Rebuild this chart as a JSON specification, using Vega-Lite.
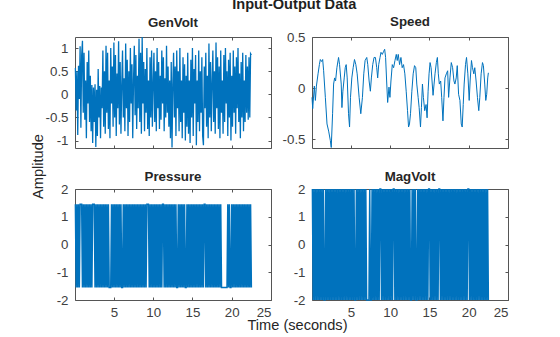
{
"$schema":"https://vega.github.io/schema/vega-lite/v6.json",
"padding":{"left":29,"top":-4,"right":5,"bottom":5},
"title":{"text":"Input-Output Data","fontSize":14.6,"fontWeight":"bold","color":"#1f1f1f","anchor":"middle","dx":25,"offset":3},
"config":{
"font":"Liberation Sans",
"view":{"stroke":"#555555","strokeWidth":1},
"axis":{"domain":false,"grid":false,"ticks":true,"tickSize":-3,"tickColor":"#555555","tickWidth":1,"labelFont":"Liberation Sans","labelFontSize":13.3,"labelColor":"#404040","labelPadding":10,"titleFont":"Liberation Sans","titleFontSize":14.6,"titleFontWeight":"normal","titleColor":"#262626","labelExpr":"datum.value < 0 ? '-' + format(-datum.value, '~g') : format(datum.value, '~g')"},
"axisX":{"labelPadding":8},
"title":{"font":"Liberation Sans","fontSize":13.3,"fontWeight":"bold","color":"#262626","offset":5}
},
"datasets":{
"gv":[{"t":0.1,"v":0.57},{"t":0.2,"v":-0.35},{"t":0.3,"v":0.5},{"t":0.4,"v":-0.88},{"t":0.5,"v":0.62},{"t":0.6,"v":-0.1},{"t":0.7,"v":1.04},{"t":0.8,"v":-0.72},{"t":0.9,"v":0.85},{"t":1,"v":1.16},
{"t":1.1,"v":-0.4},{"t":1.2,"v":0.9},{"t":1.3,"v":-0.55},{"t":1.4,"v":0.3},{"t":1.5,"v":-0.95},{"t":1.6,"v":0.7},{"t":1.7,"v":-0.2},{"t":1.8,"v":0.95},{"t":1.9,"v":-0.6},{"t":2,"v":0.4},
{"t":2.1,"v":-0.8},{"t":2.2,"v":0.2},{"t":2.3,"v":-1.05},{"t":2.4,"v":0.15},{"t":2.5,"v":-0.6},{"t":2.6,"v":0.22},{"t":2.7,"v":-1.14},{"t":2.8,"v":0.1},{"t":2.9,"v":-0.9},{"t":3,"v":0.55},
{"t":3.1,"v":-0.5},{"t":3.2,"v":0.18},{"t":3.3,"v":-0.95},{"t":3.4,"v":0.15},{"t":3.5,"v":-0.3},{"t":3.6,"v":0.95},{"t":3.7,"v":-0.7},{"t":3.8,"v":0.5},{"t":3.9,"v":-0.85},{"t":4,"v":1.05},
{"t":4.1,"v":-0.4},{"t":4.2,"v":0.9},{"t":4.3,"v":-0.75},{"t":4.4,"v":0.3},{"t":4.5,"v":-0.95},{"t":4.6,"v":1},{"t":4.7,"v":-0.2},{"t":4.8,"v":0.6},{"t":4.9,"v":-0.7},{"t":5,"v":1.12},
{"t":5.1,"v":-0.5},{"t":5.2,"v":0.85},{"t":5.3,"v":-0.9},{"t":5.4,"v":0.45},{"t":5.5,"v":-0.3},{"t":5.6,"v":1.15},{"t":5.7,"v":-0.65},{"t":5.8,"v":0.7},{"t":5.9,"v":-0.85},{"t":6,"v":0.2},
{"t":6.1,"v":0.95},{"t":6.2,"v":-0.5},{"t":6.3,"v":0.35},{"t":6.4,"v":-0.8},{"t":6.5,"v":1.1},{"t":6.6,"v":-0.3},{"t":6.7,"v":0.75},{"t":6.8,"v":-0.9},{"t":6.9,"v":0.5},{"t":7,"v":-0.6},
{"t":7.1,"v":1},{"t":7.2,"v":-0.2},{"t":7.3,"v":0.65},{"t":7.4,"v":-0.95},{"t":7.5,"v":0.3},{"t":7.6,"v":1.05},{"t":7.7,"v":-0.45},{"t":7.8,"v":0.85},{"t":7.9,"v":-0.75},{"t":8,"v":0.4},
{"t":8.1,"v":-0.3},{"t":8.2,"v":1.2},{"t":8.3,"v":-0.6},{"t":8.4,"v":0.9},{"t":8.5,"v":-0.85},{"t":8.6,"v":1.24},{"t":8.7,"v":-0.2},{"t":8.8,"v":0.7},{"t":8.9,"v":-0.8},{"t":9,"v":0.55},
{"t":9.1,"v":-0.4},{"t":9.2,"v":1},{"t":9.3,"v":-0.75},{"t":9.4,"v":0.3},{"t":9.5,"v":-0.9},{"t":9.6,"v":0.8},{"t":9.7,"v":-0.5},{"t":9.8,"v":0.95},{"t":9.9,"v":-0.7},{"t":10,"v":0.2},
{"t":10.1,"v":0.9},{"t":10.2,"v":-0.6},{"t":10.3,"v":0.5},{"t":10.4,"v":-0.8},{"t":10.5,"v":1},{"t":10.6,"v":-0.3},{"t":10.7,"v":0.7},{"t":10.8,"v":-0.75},{"t":10.9,"v":0.4},{"t":11,"v":-0.55},
{"t":11.1,"v":0.95},{"t":11.2,"v":-0.2},{"t":11.3,"v":0.8},{"t":11.4,"v":-0.8},{"t":11.5,"v":0.35},{"t":11.6,"v":-0.5},{"t":11.7,"v":1.05},{"t":11.8,"v":-0.4},{"t":11.9,"v":0.6},{"t":12,"v":-0.7},
{"t":12.1,"v":0.3},{"t":12.2,"v":-0.95},{"t":12.3,"v":0.7},{"t":12.4,"v":-1.15},{"t":12.5,"v":0.2},{"t":12.6,"v":0.9},{"t":12.7,"v":-0.5},{"t":12.8,"v":0.6},{"t":12.9,"v":-0.9},{"t":13,"v":0.95},
{"t":13.1,"v":-0.3},{"t":13.2,"v":0.5},{"t":13.3,"v":-0.8},{"t":13.4,"v":1},{"t":13.5,"v":-0.6},{"t":13.6,"v":0.3},{"t":13.7,"v":-0.95},{"t":13.8,"v":0.8},{"t":13.9,"v":-0.4},{"t":14,"v":0.65},
{"t":14.1,"v":-1},{"t":14.2,"v":0.4},{"t":14.3,"v":-0.7},{"t":14.4,"v":0.9},{"t":14.5,"v":-0.85},{"t":14.6,"v":0.3},{"t":14.7,"v":-1.05},{"t":14.8,"v":0.75},{"t":14.9,"v":-0.5},{"t":15,"v":1},
{"t":15.1,"v":-0.9},{"t":15.2,"v":0.55},{"t":15.3,"v":-0.2},{"t":15.4,"v":0.85},{"t":15.5,"v":-1.1},{"t":15.6,"v":0.3},{"t":15.7,"v":-0.6},{"t":15.8,"v":0.95},{"t":15.9,"v":-0.8},{"t":16,"v":0.5},
{"t":16.1,"v":-0.4},{"t":16.2,"v":0.8},{"t":16.3,"v":-0.9},{"t":16.4,"v":-1.1},{"t":16.5,"v":0.6},{"t":16.6,"v":-0.3},{"t":16.7,"v":0.9},{"t":16.8,"v":-0.7},{"t":16.9,"v":0.4},{"t":17,"v":-0.95},
{"t":17.1,"v":1.1},{"t":17.2,"v":-0.5},{"t":17.3,"v":0.7},{"t":17.4,"v":-0.8},{"t":17.5,"v":0.25},{"t":17.6,"v":0.95},{"t":17.7,"v":-0.6},{"t":17.8,"v":0.5},{"t":17.9,"v":-0.85},{"t":18,"v":1.12},
{"t":18.1,"v":-0.3},{"t":18.2,"v":0.8},{"t":18.3,"v":-0.75},{"t":18.4,"v":0.6},{"t":18.5,"v":-0.95},{"t":18.6,"v":0.95},{"t":18.7,"v":-0.4},{"t":18.8,"v":0.3},{"t":18.9,"v":-0.85},{"t":19,"v":0.85},
{"t":19.1,"v":-0.6},{"t":19.2,"v":1},{"t":19.3,"v":-0.2},{"t":19.4,"v":0.5},{"t":19.5,"v":-0.9},{"t":19.6,"v":0.75},{"t":19.7,"v":-0.5},{"t":19.8,"v":0.9},{"t":19.9,"v":-1},{"t":20,"v":0.4},
{"t":20.1,"v":-0.7},{"t":20.2,"v":0.95},{"t":20.3,"v":-0.4},{"t":20.4,"v":0.6},{"t":20.5,"v":-0.85},{"t":20.6,"v":0.8},{"t":20.7,"v":-0.3},{"t":20.8,"v":1},{"t":20.9,"v":-0.6},{"t":21,"v":0.45},
{"t":21.1,"v":-0.95},{"t":21.2,"v":0.7},{"t":21.3,"v":-0.5},{"t":21.4,"v":0.9},{"t":21.5,"v":-0.8},{"t":21.6,"v":0.3},{"t":21.7,"v":-0.6},{"t":21.8,"v":0.85},{"t":21.9,"v":-0.4},{"t":22,"v":0.6},
{"t":22.1,"v":-0.55},{"t":22.2,"v":0.8},{"t":22.3,"v":-0.5},{"t":22.4,"v":0.88},{"t":22.5,"v":0.85}],
"sp":[{"t":0.05,"v":-0.09},{"t":0.14,"v":-0.2},{"t":0.35,"v":0.02},{"t":0.48,"v":-0.12},{"t":0.61,"v":0.02},{"t":0.82,"v":0.14},{"t":0.99,"v":0.23},{"t":1.11,"v":0.28},{"t":1.28,"v":0.26},{"t":1.41,"v":0.28},
{"t":1.53,"v":0.17},{"t":1.75,"v":-0.09},{"t":1.96,"v":-0.35},{"t":2.17,"v":-0.42},{"t":2.38,"v":-0.51},{"t":2.5,"v":-0.58},{"t":2.67,"v":-0.25},{"t":2.8,"v":0.04},{"t":2.93,"v":0.1},{"t":3.05,"v":0.07},
{"t":3.22,"v":0.2},{"t":3.43,"v":0.3},{"t":3.56,"v":0.23},{"t":3.77,"v":0.04},{"t":3.86,"v":-0.19},{"t":3.98,"v":-0.03},{"t":4.15,"v":0.1},{"t":4.28,"v":0.2},{"t":4.4,"v":0.23},{"t":4.53,"v":0.1},
{"t":4.7,"v":-0.25},{"t":4.83,"v":-0.38},{"t":4.95,"v":-0.09},{"t":5.12,"v":0.1},{"t":5.29,"v":0.2},{"t":5.46,"v":0.28},{"t":5.63,"v":0.23},{"t":5.8,"v":0.14},{"t":6.05,"v":-0.09},{"t":6.26,"v":-0.25},
{"t":6.47,"v":-0.09},{"t":6.64,"v":0.14},{"t":6.81,"v":0.27},{"t":7.02,"v":0.3},{"t":7.15,"v":0.23},{"t":7.32,"v":0.07},{"t":7.48,"v":-0.03},{"t":7.61,"v":0.1},{"t":7.78,"v":0.23},{"t":7.95,"v":0.3},
{"t":8.12,"v":0.3},{"t":8.29,"v":0.2},{"t":8.41,"v":0.1},{"t":8.54,"v":0.23},{"t":8.71,"v":0.3},{"t":8.83,"v":0.35},{"t":9,"v":0.33},{"t":9.17,"v":0.36},{"t":9.3,"v":0.38},{"t":9.42,"v":0.3},
{"t":9.55,"v":0.07},{"t":9.68,"v":-0.14},{"t":9.85,"v":0.01},{"t":9.97,"v":-0.09},{"t":10.1,"v":0.07},{"t":10.27,"v":0.23},{"t":10.44,"v":0.2},{"t":10.61,"v":0.27},{"t":10.78,"v":0.33},{"t":10.9,"v":0.27},
{"t":11.03,"v":0.33},{"t":11.2,"v":0.23},{"t":11.37,"v":0.3},{"t":11.53,"v":0.2},{"t":11.7,"v":0.23},{"t":11.87,"v":0.14},{"t":12.04,"v":-0.03},{"t":12.21,"v":-0.22},{"t":12.34,"v":-0.38},{"t":12.46,"v":-0.35},
{"t":12.59,"v":-0.25},{"t":12.76,"v":-0.03},{"t":12.93,"v":0.14},{"t":13.1,"v":0.22},{"t":13.26,"v":0.2},{"t":13.39,"v":0.04},{"t":13.56,"v":-0.09},{"t":13.69,"v":-0.19},{"t":13.86,"v":-0.38},{"t":13.98,"v":-0.19},
{"t":14.11,"v":0.04},{"t":14.23,"v":-0.09},{"t":14.4,"v":-0.22},{"t":14.57,"v":-0.16},{"t":14.7,"v":-0.29},{"t":14.83,"v":-0.03},{"t":14.95,"v":0.14},{"t":15.08,"v":0.25},{"t":15.21,"v":0.2},{"t":15.33,"v":0.07},
{"t":15.46,"v":-0.07},{"t":15.59,"v":0.04},{"t":15.71,"v":0.14},{"t":15.88,"v":0.25},{"t":16.01,"v":0.3},{"t":16.13,"v":0.14},{"t":16.26,"v":0.04},{"t":16.43,"v":0.07},{"t":16.56,"v":-0.09},{"t":16.72,"v":-0.32},
{"t":16.85,"v":-0.09},{"t":16.98,"v":0.1},{"t":17.15,"v":0.14},{"t":17.32,"v":0.17},{"t":17.44,"v":-0.09},{"t":17.61,"v":0.1},{"t":17.78,"v":0.25},{"t":17.95,"v":0.2},{"t":18.12,"v":0.07},{"t":18.24,"v":0.04},
{"t":18.41,"v":0.1},{"t":18.54,"v":0.22},{"t":18.71,"v":-0.06},{"t":18.88,"v":-0.12},{"t":19.05,"v":-0.35},{"t":19.17,"v":-0.38},{"t":19.3,"v":-0.16},{"t":19.42,"v":0.04},{"t":19.59,"v":0.23},{"t":19.72,"v":0.3},
{"t":19.89,"v":0.14},{"t":20.06,"v":-0.12},{"t":20.18,"v":0.07},{"t":20.35,"v":0.27},{"t":20.48,"v":0.2},{"t":20.65,"v":0.14},{"t":20.77,"v":0.2},{"t":20.94,"v":0.07},{"t":21.11,"v":-0.09},{"t":21.28,"v":-0.22},
{"t":21.41,"v":-0.09},{"t":21.58,"v":0.14},{"t":21.75,"v":0.25},{"t":21.87,"v":0.22},{"t":22.04,"v":0.04},{"t":22.17,"v":-0.12},{"t":22.29,"v":-0.06},{"t":22.42,"v":0.1},{"t":22.5,"v":0.15}],
"pr":[{"t":0.1,"v":1.45},{"t":0.2,"v":-1.55},{"t":0.3,"v":1.45},{"t":0.4,"v":-1.55},{"t":0.5,"v":1.45},{"t":0.6,"v":-1.55},{"t":0.7,"v":1.45},{"t":0.8,"v":1.45},{"t":0.9,"v":1.45},{"t":1,"v":-1.55},
{"t":1.1,"v":1.45},{"t":1.2,"v":-1.55},{"t":1.3,"v":1.45},{"t":1.4,"v":-1.55},{"t":1.5,"v":1.45},{"t":1.6,"v":-1.55},{"t":1.7,"v":1.45},{"t":1.8,"v":-1.55},{"t":1.9,"v":1.45},{"t":2,"v":-1.55},
{"t":2.1,"v":1.45},{"t":2.2,"v":-1.55},{"t":2.3,"v":1.45},{"t":2.4,"v":1.45},{"t":2.5,"v":1.45},{"t":2.6,"v":-1.55},{"t":2.7,"v":1.45},{"t":2.8,"v":-1.55},{"t":2.9,"v":1.45},{"t":3,"v":-1.55},
{"t":3.1,"v":1.45},{"t":3.2,"v":-1.55},{"t":3.3,"v":1.45},{"t":3.4,"v":-1.55},{"t":3.5,"v":1.45},{"t":3.6,"v":-1.55},{"t":3.7,"v":1.45},{"t":3.8,"v":-1.55},{"t":3.9,"v":1.45},{"t":4,"v":-1.55},
{"t":4.1,"v":1.45},{"t":4.2,"v":-1.55},{"t":4.3,"v":1.45},{"t":4.4,"v":-1.55},{"t":4.5,"v":-1.55},{"t":4.6,"v":-1.55},{"t":4.7,"v":1.45},{"t":4.8,"v":-1.55},{"t":4.9,"v":1.45},{"t":5,"v":-1.55},
{"t":5.1,"v":1.45},{"t":5.2,"v":-1.55},{"t":5.3,"v":1.45},{"t":5.4,"v":-1.55},{"t":5.5,"v":1.45},{"t":5.6,"v":-1.55},{"t":5.7,"v":1.45},{"t":5.8,"v":-1.55},{"t":5.9,"v":1.45},{"t":6,"v":-1.55},
{"t":6.1,"v":-1.55},{"t":6.2,"v":1.45},{"t":6.3,"v":-1.55},{"t":6.4,"v":1.45},{"t":6.5,"v":-1.55},{"t":6.6,"v":1.45},{"t":6.7,"v":-1.55},{"t":6.8,"v":1.45},{"t":6.9,"v":-1.55},{"t":7,"v":1.45},
{"t":7.1,"v":-1.55},{"t":7.2,"v":1.45},{"t":7.3,"v":-1.55},{"t":7.4,"v":1.45},{"t":7.5,"v":-1.55},{"t":7.6,"v":1.45},{"t":7.7,"v":-1.55},{"t":7.8,"v":1.45},{"t":7.9,"v":-1.55},{"t":8,"v":1.45},
{"t":8.1,"v":-1.55},{"t":8.2,"v":1.45},{"t":8.3,"v":-1.55},{"t":8.4,"v":1.45},{"t":8.5,"v":-1.55},{"t":8.6,"v":1.45},{"t":8.7,"v":-1.55},{"t":8.8,"v":1.45},{"t":8.9,"v":-1.55},{"t":9,"v":1.45},
{"t":9.1,"v":-1.55},{"t":9.2,"v":1.45},{"t":9.3,"v":1.45},{"t":9.4,"v":1.45},{"t":9.5,"v":-1.55},{"t":9.6,"v":1.45},{"t":9.7,"v":-1.55},{"t":9.8,"v":1.45},{"t":9.9,"v":-1.55},{"t":10,"v":1.45},
{"t":10.1,"v":-1.55},{"t":10.2,"v":1.45},{"t":10.3,"v":-1.55},{"t":10.4,"v":1.45},{"t":10.5,"v":-1.55},{"t":10.6,"v":1.45},{"t":10.7,"v":-1.55},{"t":10.8,"v":1.45},{"t":10.9,"v":-1.55},{"t":11,"v":1.45},
{"t":11.1,"v":-1.55},{"t":11.2,"v":1.45},{"t":11.3,"v":1.45},{"t":11.4,"v":-1.55},{"t":11.5,"v":1.45},{"t":11.6,"v":-1.55},{"t":11.7,"v":1.45},{"t":11.8,"v":-1.55},{"t":11.9,"v":1.45},{"t":12,"v":-1.55},
{"t":12.1,"v":1.45},{"t":12.2,"v":-1.55},{"t":12.3,"v":1.45},{"t":12.4,"v":-1.55},{"t":12.5,"v":1.45},{"t":12.6,"v":-1.55},{"t":12.7,"v":1.45},{"t":12.8,"v":-1.55},{"t":12.9,"v":1.45},{"t":13,"v":-1.55},
{"t":13.1,"v":-1.55},{"t":13.2,"v":1.45},{"t":13.3,"v":-1.55},{"t":13.4,"v":1.45},{"t":13.5,"v":-1.55},{"t":13.6,"v":1.45},{"t":13.7,"v":-1.55},{"t":13.8,"v":1.45},{"t":13.9,"v":-1.55},{"t":14,"v":1.45},
{"t":14.1,"v":-1.55},{"t":14.2,"v":-1.55},{"t":14.3,"v":1.45},{"t":14.4,"v":-1.55},{"t":14.5,"v":1.45},{"t":14.6,"v":-1.55},{"t":14.7,"v":1.45},{"t":14.8,"v":-1.55},{"t":14.9,"v":1.45},{"t":15,"v":-1.55},
{"t":15.1,"v":1.45},{"t":15.2,"v":-1.55},{"t":15.3,"v":1.45},{"t":15.4,"v":-1.55},{"t":15.5,"v":1.45},{"t":15.6,"v":-1.55},{"t":15.7,"v":1.45},{"t":15.8,"v":-1.55},{"t":15.9,"v":1.45},{"t":16,"v":-1.55},
{"t":16.1,"v":1.45},{"t":16.2,"v":-1.55},{"t":16.3,"v":1.45},{"t":16.4,"v":-1.55},{"t":16.5,"v":1.45},{"t":16.6,"v":1.45},{"t":16.7,"v":-1.55},{"t":16.8,"v":1.45},{"t":16.9,"v":-1.55},{"t":17,"v":1.45},
{"t":17.1,"v":-1.55},{"t":17.2,"v":1.45},{"t":17.3,"v":-1.55},{"t":17.4,"v":1.45},{"t":17.5,"v":-1.55},{"t":17.6,"v":1.45},{"t":17.7,"v":-1.55},{"t":17.8,"v":1.45},{"t":17.9,"v":-1.55},{"t":18,"v":1.45},
{"t":18.1,"v":-1.55},{"t":18.2,"v":1.45},{"t":18.3,"v":-1.55},{"t":18.4,"v":1.45},{"t":18.5,"v":-1.55},{"t":18.6,"v":1.45},{"t":18.7,"v":-1.55},{"t":18.8,"v":-1.55},{"t":18.9,"v":-1.55},{"t":19,"v":-1.55},
{"t":19.1,"v":-1.55},{"t":19.2,"v":-1.55},{"t":19.3,"v":-1.55},{"t":19.4,"v":-1.55},{"t":19.5,"v":1.45},{"t":19.6,"v":-1.55},{"t":19.7,"v":1.45},{"t":19.8,"v":-1.55},{"t":19.9,"v":-1.55},{"t":20,"v":1.45},
{"t":20.1,"v":-1.55},{"t":20.2,"v":1.45},{"t":20.3,"v":-1.55},{"t":20.4,"v":1.45},{"t":20.5,"v":-1.55},{"t":20.6,"v":1.45},{"t":20.7,"v":-1.55},{"t":20.8,"v":1.45},{"t":20.9,"v":-1.55},{"t":21,"v":1.45},
{"t":21.1,"v":-1.55},{"t":21.2,"v":1.45},{"t":21.3,"v":-1.55},{"t":21.4,"v":1.45},{"t":21.5,"v":-1.55},{"t":21.6,"v":1.45},{"t":21.7,"v":-1.55},{"t":21.8,"v":1.45},{"t":21.9,"v":-1.55},{"t":22,"v":1.45},
{"t":22.1,"v":-1.55},{"t":22.2,"v":1.45},{"t":22.3,"v":-1.55},{"t":22.4,"v":1.45},{"t":22.5,"v":-1.55}],
"mv":[{"t":0.1,"v":2},{"t":0.2,"v":-2},{"t":0.3,"v":2},{"t":0.4,"v":-2},{"t":0.5,"v":2},{"t":0.6,"v":-2},{"t":0.7,"v":2},{"t":0.8,"v":-2},{"t":0.9,"v":2},{"t":1,"v":-2},
{"t":1.1,"v":2},{"t":1.2,"v":-2},{"t":1.3,"v":2},{"t":1.4,"v":-2},{"t":1.5,"v":2},{"t":1.6,"v":-2},{"t":1.7,"v":-2},{"t":1.8,"v":2},{"t":1.9,"v":-2},{"t":2,"v":2},
{"t":2.1,"v":-2},{"t":2.2,"v":2},{"t":2.3,"v":-2},{"t":2.4,"v":2},{"t":2.5,"v":-2},{"t":2.6,"v":2},{"t":2.7,"v":-2},{"t":2.8,"v":2},{"t":2.9,"v":-2},{"t":3,"v":2},
{"t":3.1,"v":-2},{"t":3.2,"v":2},{"t":3.3,"v":-2},{"t":3.4,"v":2},{"t":3.5,"v":-2},{"t":3.6,"v":2},{"t":3.7,"v":-2},{"t":3.8,"v":2},{"t":3.9,"v":-2},{"t":4,"v":2},
{"t":4.1,"v":-2},{"t":4.2,"v":2},{"t":4.3,"v":-2},{"t":4.4,"v":2},{"t":4.5,"v":-2},{"t":4.6,"v":2},{"t":4.7,"v":-2},{"t":4.8,"v":2},{"t":4.9,"v":-2},{"t":5,"v":2},
{"t":5.1,"v":-2},{"t":5.2,"v":2},{"t":5.3,"v":-2},{"t":5.4,"v":2},{"t":5.5,"v":-2},{"t":5.6,"v":-2},{"t":5.7,"v":2},{"t":5.8,"v":-2},{"t":5.9,"v":2},{"t":6,"v":-2},
{"t":6.1,"v":2},{"t":6.2,"v":-2},{"t":6.3,"v":2},{"t":6.4,"v":-2},{"t":6.5,"v":2},{"t":6.6,"v":-2},{"t":6.7,"v":2},{"t":6.8,"v":-2},{"t":6.9,"v":2},{"t":7,"v":-2},
{"t":7.1,"v":-2},{"t":7.2,"v":-2},{"t":7.3,"v":-2},{"t":7.4,"v":2},{"t":7.5,"v":-2},{"t":7.6,"v":-2},{"t":7.7,"v":2},{"t":7.8,"v":-2},{"t":7.9,"v":2},{"t":8,"v":-2},
{"t":8.1,"v":2},{"t":8.2,"v":-2},{"t":8.3,"v":2},{"t":8.4,"v":-2},{"t":8.5,"v":2},{"t":8.6,"v":-2},{"t":8.7,"v":2},{"t":8.8,"v":2},{"t":8.9,"v":-2},{"t":9,"v":2},
{"t":9.1,"v":-2},{"t":9.2,"v":2},{"t":9.3,"v":-2},{"t":9.4,"v":2},{"t":9.5,"v":-2},{"t":9.6,"v":2},{"t":9.7,"v":-2},{"t":9.8,"v":2},{"t":9.9,"v":-2},{"t":10,"v":2},
{"t":10.1,"v":-2},{"t":10.2,"v":2},{"t":10.3,"v":-2},{"t":10.4,"v":2},{"t":10.5,"v":2},{"t":10.6,"v":-2},{"t":10.7,"v":2},{"t":10.8,"v":-2},{"t":10.9,"v":2},{"t":11,"v":-2},
{"t":11.1,"v":2},{"t":11.2,"v":-2},{"t":11.3,"v":2},{"t":11.4,"v":-2},{"t":11.5,"v":2},{"t":11.6,"v":-2},{"t":11.7,"v":2},{"t":11.8,"v":-2},{"t":11.9,"v":2},{"t":12,"v":-2},
{"t":12.1,"v":2},{"t":12.2,"v":-2},{"t":12.3,"v":2},{"t":12.4,"v":-2},{"t":12.5,"v":2},{"t":12.6,"v":-2},{"t":12.7,"v":-2},{"t":12.8,"v":2},{"t":12.9,"v":-2},{"t":13,"v":2},
{"t":13.1,"v":-2},{"t":13.2,"v":2},{"t":13.3,"v":-2},{"t":13.4,"v":-2},{"t":13.5,"v":2},{"t":13.6,"v":-2},{"t":13.7,"v":2},{"t":13.8,"v":-2},{"t":13.9,"v":2},{"t":14,"v":-2},
{"t":14.1,"v":2},{"t":14.2,"v":-2},{"t":14.3,"v":2},{"t":14.4,"v":-2},{"t":14.5,"v":2},{"t":14.6,"v":-2},{"t":14.7,"v":2},{"t":14.8,"v":-2},{"t":14.9,"v":2},{"t":15,"v":2},
{"t":15.1,"v":-2},{"t":15.2,"v":2},{"t":15.3,"v":-2},{"t":15.4,"v":2},{"t":15.5,"v":-2},{"t":15.6,"v":2},{"t":15.7,"v":-2},{"t":15.8,"v":2},{"t":15.9,"v":-2},{"t":16,"v":2},
{"t":16.1,"v":-2},{"t":16.2,"v":2},{"t":16.3,"v":2},{"t":16.4,"v":-2},{"t":16.5,"v":2},{"t":16.6,"v":-2},{"t":16.7,"v":2},{"t":16.8,"v":-2},{"t":16.9,"v":2},{"t":17,"v":-2},
{"t":17.1,"v":2},{"t":17.2,"v":-2},{"t":17.3,"v":2},{"t":17.4,"v":-2},{"t":17.5,"v":2},{"t":17.6,"v":-2},{"t":17.7,"v":2},{"t":17.8,"v":-2},{"t":17.9,"v":2},{"t":18,"v":-2},
{"t":18.1,"v":2},{"t":18.2,"v":-2},{"t":18.3,"v":2},{"t":18.4,"v":-2},{"t":18.5,"v":2},{"t":18.6,"v":-2},{"t":18.7,"v":2},{"t":18.8,"v":-2},{"t":18.9,"v":2},{"t":19,"v":-2},
{"t":19.1,"v":2},{"t":19.2,"v":-2},{"t":19.3,"v":2},{"t":19.4,"v":-2},{"t":19.5,"v":2},{"t":19.6,"v":-2},{"t":19.7,"v":2},{"t":19.8,"v":-2},{"t":19.9,"v":2},{"t":20,"v":2},
{"t":20.1,"v":-2},{"t":20.2,"v":2},{"t":20.3,"v":-2},{"t":20.4,"v":2},{"t":20.5,"v":-2},{"t":20.6,"v":2},{"t":20.7,"v":-2},{"t":20.8,"v":2},{"t":20.9,"v":-2},{"t":21,"v":2},
{"t":21.1,"v":-2},{"t":21.2,"v":2},{"t":21.3,"v":-2},{"t":21.4,"v":2},{"t":21.5,"v":-2},{"t":21.6,"v":2},{"t":21.7,"v":-2},{"t":21.8,"v":2},{"t":21.9,"v":-2},{"t":22,"v":2},
{"t":22.1,"v":-2},{"t":22.2,"v":2},{"t":22.3,"v":-2},{"t":22.4,"v":2},{"t":22.5,"v":-2}]
},
"bounds":"flush",
"spacing":41,
"columns":2,
"concat":[
 {"width":196,"height":111,"title":{"text":"GenVolt","offset":5},
  "layer":[
   {"data":{"name":"gv"},"mark":{"type":"line","color":"#0072BD","strokeWidth":1.3},
    "encoding":{
     "x":{"field":"t","type":"quantitative","scale":{"domain":[0.05,25],"nice":false,"zero":false},"axis":{"orient":"bottom","values":[5,10,15,20,25],"labels":false,"title":null}},
     "y":{"field":"v","type":"quantitative","scale":{"domain":[-1.16,1.24],"nice":false,"zero":false},"axis":{"orient":"left","values":[-1,-0.5,0,0.5,1],"title":"Amplitude","titleX":-37,"titleY":129,"titleBaseline":"middle","titleAlign":"center","titleAngle":-90}}}},
   {"data":{"values":[]},"mark":{"type":"rule"},
    "encoding":{
     "x":{"field":"t","type":"quantitative","axis":{"orient":"top","values":[5,10,15,20,25],"labels":false,"title":null}},
     "y":{"field":"v","type":"quantitative","axis":{"orient":"right","values":[-1,-0.5,0,0.5,1],"labels":false,"title":null}}}}
  ]},
 {"width":196,"height":111,"title":{"text":"Speed","offset":2},
  "layer":[
   {"data":{"name":"sp"},"mark":{"type":"line","color":"#0072BD","strokeWidth":1},
    "encoding":{
     "x":{"field":"t","type":"quantitative","scale":{"domain":[0.05,25],"nice":false,"zero":false},"axis":{"orient":"bottom","values":[5,10,15,20,25],"labels":false,"title":null}},
     "y":{"field":"v","type":"quantitative","scale":{"domain":[-0.585,0.5],"nice":false,"zero":false},"axis":{"orient":"left","values":[-0.5,0,0.5],"title":null}}}},
   {"data":{"values":[]},"mark":{"type":"rule"},
    "encoding":{
     "x":{"field":"t","type":"quantitative","axis":{"orient":"top","values":[5,10,15,20,25],"labels":false,"title":null}},
     "y":{"field":"v","type":"quantitative","axis":{"orient":"right","values":[-0.5,0,0.5],"labels":false,"title":null}}}}
  ]},
 {"width":196,"height":111,"title":{"text":"Pressure","offset":-1},
  "layer":[
   {"data":{"name":"pr"},"mark":{"type":"line","color":"#0072BD","strokeWidth":1.5},
    "encoding":{
     "x":{"field":"t","type":"quantitative","scale":{"domain":[0.05,25],"nice":false,"zero":false},"axis":{"orient":"bottom","values":[5,10,15,20,25],"title":"Time (seconds)","titleX":222,"titleY":25,"titleBaseline":"middle","titleAlign":"center"}},
     "y":{"field":"v","type":"quantitative","scale":{"domain":[-2,2],"nice":false,"zero":false},"axis":{"orient":"left","values":[-2,-1,0,1,2],"title":null}}}},
   {"data":{"values":[]},"mark":{"type":"rule"},
    "encoding":{
     "x":{"field":"t","type":"quantitative","axis":{"orient":"top","values":[5,10,15,20,25],"labels":false,"title":null}},
     "y":{"field":"v","type":"quantitative","axis":{"orient":"right","values":[-2,-1,0,1,2],"labels":false,"title":null}}}}
  ]},
 {"width":196,"height":111,"title":{"text":"MagVolt","offset":-1},
  "layer":[
   {"data":{"name":"mv"},"mark":{"type":"line","color":"#0072BD","strokeWidth":1.5},
    "encoding":{
     "x":{"field":"t","type":"quantitative","scale":{"domain":[0.05,25],"nice":false,"zero":false},"axis":{"orient":"bottom","values":[5,10,15,20,25],"title":null}},
     "y":{"field":"v","type":"quantitative","scale":{"domain":[-2,2],"nice":false,"zero":false},"axis":{"orient":"left","values":[-2,-1,0,1,2],"title":null}}}},
   {"data":{"values":[]},"mark":{"type":"rule"},
    "encoding":{
     "x":{"field":"t","type":"quantitative","axis":{"orient":"top","values":[5,10,15,20,25],"labels":false,"title":null}},
     "y":{"field":"v","type":"quantitative","axis":{"orient":"right","values":[-2,-1,0,1,2],"labels":false,"title":null}}}}
  ]}
]
}
